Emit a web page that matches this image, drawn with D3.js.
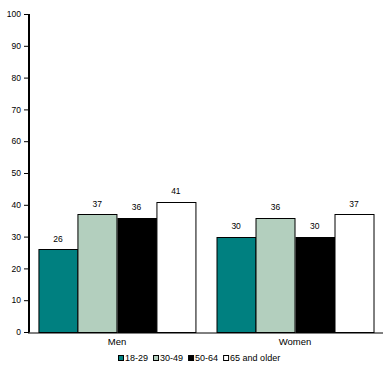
<!DOCTYPE html>
<html><head><meta charset="utf-8">
<script src="https://cdn.jsdelivr.net/npm/d3@7"></script>
<style>body{margin:0;background:#fff}svg{display:block}text{font-family:Arial,"Liberation Sans",sans-serif}</style>
</head><body>
<script>
const categories = ["Men", "Women"];
const groups = ["18-29", "30-49", "50-64", "65 and older"];
const men = [26, 37, 36, 41];
const women = [30, 36, 30, 37];
const colors = ["#008080", "#b3cfbe", "#000000", "#ffffff"];
const yTicks = [0,10,20,30,40,50,60,70,80,90,100];

const W = 388, H = 376;
const svg = d3.select("body").append("svg").attr("width", W).attr("height", H);

const y = d3.scaleLinear().domain([0,100]).range([332,14]);
const x0 = d3.scaleBand().domain(categories).range([29,383]).paddingInner(0.118).paddingOuter(0.053);
const x1 = d3.scaleBand().domain(groups).range([0, x0.bandwidth()]).padding(0);

const series = {Men: men, Women: women};
categories.forEach(c => {
  const g = svg.append("g").attr("transform", `translate(${x0(c)},0)`);
  const vals = series[c];
  g.selectAll("rect").data(groups).join("rect")
    .attr("x", d => Math.round(x1(d)) + 0.5)
    .attr("y", (d,i) => Math.round(y(vals[i])) + 0.5)
    .attr("width", d => Math.round(x1.bandwidth()))
    .attr("height", (d,i) => Math.round(y(0)) - Math.round(y(vals[i])))
    .attr("fill", (d,i) => colors[i])
    .attr("stroke", "#000").attr("stroke-width", 1);
  g.selectAll("text.v").data(groups).join("text").attr("class","v")
    .attr("x", d => x1(d) + x1.bandwidth()/2)
    .attr("y", (d,i) => y(vals[i]) - 7.5)
    .attr("text-anchor","middle").attr("font-size", 8.5).text((d,i) => vals[i]);
});

// y axis
const yAxis = d3.axisLeft(y).tickValues(yTicks).tickSize(5).tickPadding(3);
const ya = svg.append("g").attr("transform","translate(29,0)").call(yAxis);
ya.select(".domain").remove();
ya.selectAll("text").attr("font-size", 8.5).attr("font-family", "Arial, 'Liberation Sans', sans-serif");
ya.selectAll("line").attr("stroke", "#000");
svg.append("line").attr("x1",29).attr("x2",29).attr("y1",14).attr("y2",332.5).attr("stroke","#000").attr("stroke-width",2);

// x axis
const xAxis = d3.axisBottom(x0).tickSize(0).tickPadding(12);
const xa = svg.append("g").attr("transform","translate(0,332.5)").call(xAxis);
xa.select(".domain").attr("d", "M28,0.5H383");
xa.selectAll("text").attr("font-size", 9.5).attr("font-family", "Arial, 'Liberation Sans', sans-serif").attr("dy", "0");

// legend
const leg = svg.append("g");
let lx = 118.5;
groups.forEach((gname, i) => {
  leg.append("rect").attr("x", lx).attr("y", 355.5).attr("width", 5).attr("height", 5)
    .attr("fill", colors[i]).attr("stroke", "#000").attr("stroke-width", 1);
  const t = leg.append("text").attr("x", lx + 6.5).attr("y", 361).attr("font-size", 9).text(gname);
  lx += 6.5 + t.node().getComputedTextLength() + 5.5;
});
</script>
</body></html>
